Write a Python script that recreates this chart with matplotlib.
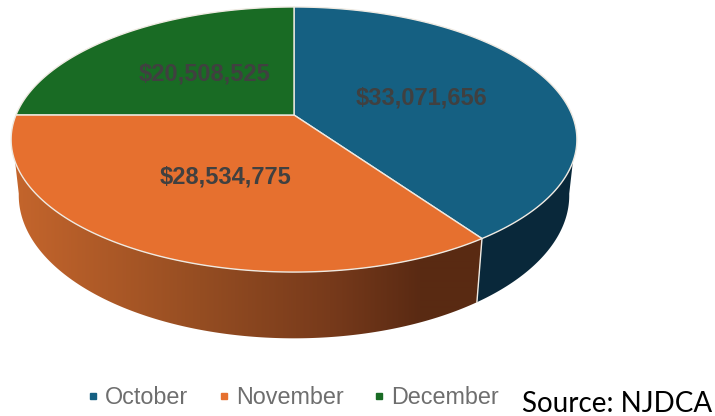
import numpy as np
import matplotlib
matplotlib.use("Agg")
import matplotlib.pyplot as plt
from matplotlib.colors import to_rgb
from matplotlib.lines import Line2D
from matplotlib.patches import Polygon

months = ["October", "November", "December"]
values = [33071656, 28534775, 20508525]
value_labels = ["$33,071,656", "$28,534,775", "$20,508,525"]

top_colors = ["#156082", "#E6702F", "#196B24"]
oct_side_color = "#09283A"
edge_color = "#EFEAE2"

# november wall shading, left to right in pixels
shade_x = [15, 200, 330, 420, 480]
shade_colors = ["#C4652C", "#954D22", "#773A1B", "#5A2A13", "#592A12"]

# projection of the tilted pie, in pixels
cx, cy = 294, 115
rx, ry = 278, 128
persp = 0.185
low_scale = 0.973
low_cy, low_ry = 169, 138
side_from, side_to = 110, 250
# the wall's foot runs on a bit past where it leaves the top rim
foot_extra = 10


def top_ring(ang):
    a = np.radians(ang)
    u, v = np.sin(a), np.cos(a)
    d = 1 + persp * v
    return cx + rx * u / d, cy - ry * v / d


def low_ring(ang):
    a = np.radians(ang)
    u, v = np.sin(a), np.cos(a)
    d = 1 + persp * v
    return cx + rx * low_scale * u / d, low_cy - low_ry * v / d


def wall_points(a0, a1, f0, f1):
    xt, yt = top_ring(np.linspace(a0, a1, 200))
    xl, yl = low_ring(np.linspace(f0, f1, 200))
    return np.column_stack([np.concatenate([xt, xl[::-1]]), np.concatenate([yt, yl[::-1]])])


fig = plt.figure(figsize=(7.15, 4.16), dpi=100)
ax = fig.add_axes([0, 0, 1, 1])
ax.set_xlim(0, 715)
ax.set_ylim(416, 0)
ax.axis("off")

fracs = np.array(values) / sum(values)
bounds = np.concatenate([[0], np.cumsum(fracs) * 360])

# side walls
ax.add_patch(Polygon(wall_points(side_from, bounds[1], side_from - foot_extra, bounds[1]), closed=True,
                     facecolor=oct_side_color, edgecolor="none", zorder=1))

grad_x = np.arange(0, 500)
rgb = np.array([to_rgb(c) for c in shade_colors])
grad = np.stack([np.interp(grad_x, shade_x, rgb[:, k]) for k in range(3)], axis=-1)[None, :, :]
im = ax.imshow(grad, extent=(0, 500, 416, 0), aspect="auto", interpolation="bilinear", zorder=1)
wall = Polygon(wall_points(bounds[1], side_to, bounds[1], side_to + foot_extra), closed=True, transform=ax.transData)
im.set_clip_path(wall)
ax.set_xlim(0, 715)
ax.set_ylim(416, 0)

# divider between october and november on the wall
xt, yt = top_ring(bounds[1])
xl, yl = low_ring(bounds[1])
ax.plot([xt, xl], [yt, yl], color=edge_color, lw=1.0, zorder=2)

# top face
for i in range(len(values)):
    angs = np.linspace(bounds[i], bounds[i + 1], 200)
    xs, ys = top_ring(angs)
    xs = np.concatenate([[cx], xs])
    ys = np.concatenate([[cy], ys])
    ax.fill(xs, ys, facecolor=top_colors[i], edgecolor=edge_color, lw=1.0, zorder=3, joinstyle="round")

label_pos = [(421.5, 98), (226, 177), (205, 74.5)]
for lab, (lx, ly) in zip(value_labels, label_pos):
    ax.text(lx, ly, lab, ha="center", va="center", color="#404040", fontsize=17,
            fontweight="bold", family="Liberation Sans", zorder=4)

handles = [Line2D([], [], ls="", marker="s", ms=5, color=c) for c in top_colors]
ax.legend(handles, months, loc="center", bbox_to_anchor=(292.5 / 715, 1 - 397.5 / 416), ncol=3,
          frameon=False, handlelength=0.6, handletextpad=0.22, columnspacing=1.22,
          labelcolor="#6E6E6E", prop={"family": "Liberation Sans", "size": 16.8})

ax.text(522, 404, "Source: NJDCA", ha="left", va="center", color="black", fontsize=20, family="Lato")

fig.savefig("out.png", dpi=100)
